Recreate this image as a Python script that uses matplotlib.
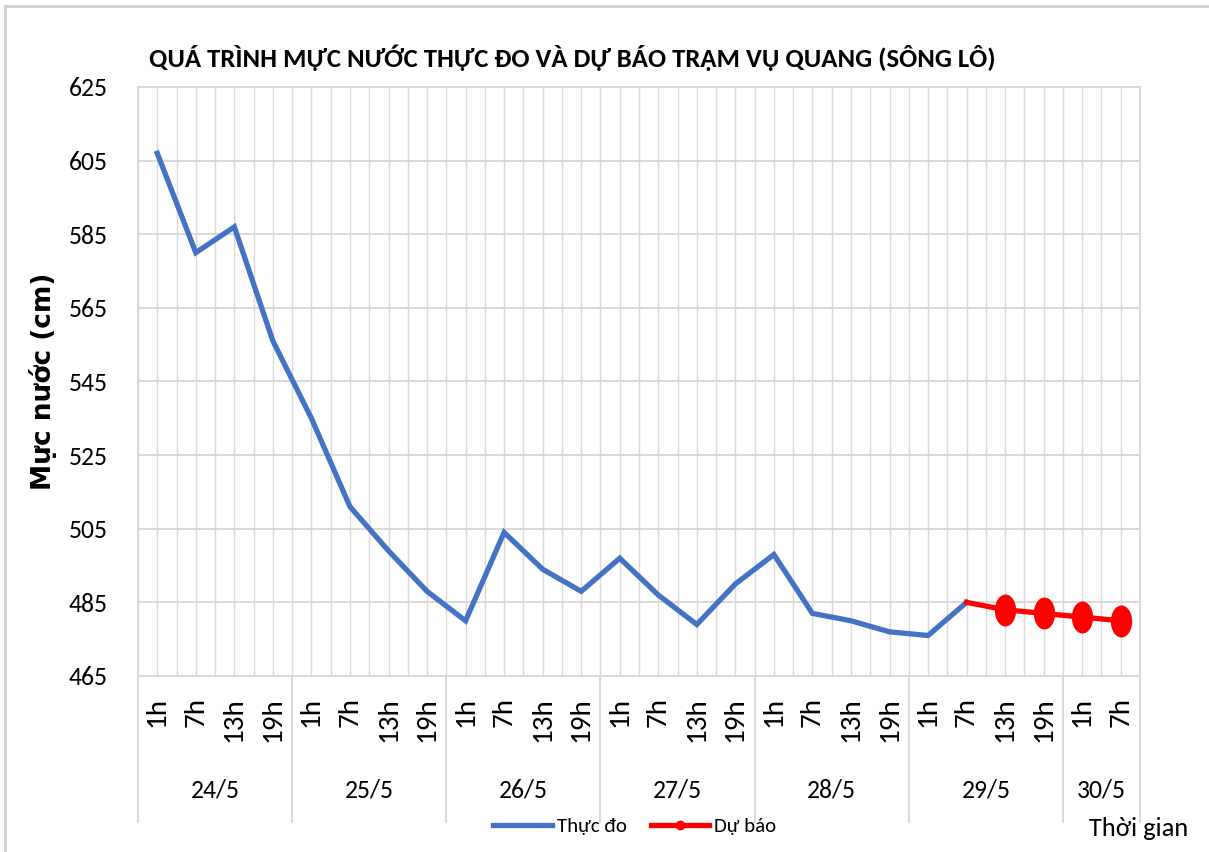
import matplotlib
matplotlib.use("Agg")
import matplotlib.pyplot as plt
import matplotlib.transforms as mtransforms
from matplotlib.lines import Line2D
from matplotlib.path import Path

plt.rcParams['font.family'] = ['Carlito', 'Liberation Sans', 'DejaVu Sans']

# du lieu doc tu hinh
days = ["24/5", "25/5", "26/5", "27/5", "28/5", "29/5", "30/5"]
hours_per_day = [4, 4, 4, 4, 4, 4, 2]
hour_labels = ["1h", "7h", "13h", "19h"] * 6 + ["1h", "7h"]
thuc_do = [607, 580, 587, 556, 535, 511, 499, 488, 480, 504, 494, 488,
           497, 487, 479, 490, 498, 482, 480, 477, 476, 485]
du_bao = [485, 483, 482, 481, 480]   # tu 29/5 7h
du_bao_start = 21

BLUE = "#4472C4"
RED = "#FF0000"
GRID = "#d9d9d9"

# marker hinh elip (cao hon rong)
circ = Path.unit_circle()
ellipse = Path(circ.vertices * [0.65, 1.0], circ.codes)

fig = plt.figure(figsize=(12.09, 8.52), dpi=100)
ax = fig.add_axes([138 / 1209, 1 - 676 / 852, (1140 - 138) / 1209, (676 - 87) / 852])

n = len(hour_labels)
x_pos = [i + 0.5 for i in range(n)]

ax.plot(x_pos[:len(thuc_do)], thuc_do, color=BLUE, lw=3.8, solid_joinstyle='miter', zorder=3)
x_fc = x_pos[du_bao_start:du_bao_start + len(du_bao)]
ax.plot(x_fc, du_bao, color=RED, lw=3.8, marker=ellipse, markersize=22,
        markevery=list(range(1, len(du_bao))), zorder=4)

ax.set_xlim(0, n)
ax.set_ylim(465, 625)
ax.set_yticks(range(465, 626, 20))

# luoi doc moi nua khoang
for k in range(2 * n + 1):
    ax.axvline(k / 2, color=GRID, lw=1.0, zorder=1)
for yv in range(465, 626, 20):
    ax.axhline(yv, color=GRID, lw=1.4, zorder=1)

for s in ax.spines.values():
    s.set_color(GRID)
    s.set_linewidth(1.4)

ax.set_xticks(x_pos)
ax.set_xticklabels(hour_labels, rotation=90, va='top', ha='center')
ax.tick_params(axis='x', length=0, pad=15, labelsize=21)
ax.tick_params(axis='y', length=0, pad=22, labelsize=18.5)

# nhom ngay
trans = mtransforms.blended_transform_factory(ax.transData, ax.transAxes)
edge = 0
ax.plot([0, 0], [0, -0.248], transform=trans, color=GRID, lw=1.4, clip_on=False)
for d, cnt in zip(days, hours_per_day):
    ax.text(edge + cnt / 2, -0.1935, d, transform=trans, ha='center', va='center', fontsize=18.5)
    edge += cnt
    ax.plot([edge, edge], [0, -0.248], transform=trans, color=GRID, lw=1.4, clip_on=False)

ax.set_ylabel("Mực nước (cm)", fontsize=19, fontweight='bold',
              family=['DejaVu Sans'], labelpad=8)

fig.text(0.473, 1 - 58 / 852,
         "QUÁ TRÌNH MỰC NƯỚC THỰC ĐO VÀ DỰ BÁO TRẠM VỤ QUANG (SÔNG LÔ)",
         ha='center', va='center', fontsize=19.3, fontweight='bold')

handles = [Line2D([], [], color=BLUE, lw=3.8),
           Line2D([], [], color=RED, lw=3.8, marker='o', markersize=6)]
fig.legend(handles, ["Thực đo", "Dự báo"], loc='center', bbox_to_anchor=(0.525, 1 - 826 / 852),
           ncol=2, frameon=False, fontsize=15, handlelength=2.8, handletextpad=0.25,
           columnspacing=1.15)

fig.text(1188 / 1209, 1 - 828 / 852, "Thời gian", ha='right', va='center', fontsize=19)

# khung ngoai
fig.add_artist(Line2D([5 / 1209, 5 / 1209], [0, 1 - 6 / 852], color="#d0d0d0", lw=2))
fig.add_artist(Line2D([5 / 1209, 1], [1 - 6 / 852, 1 - 6 / 852], color="#d0d0d0", lw=2))

fig.savefig("out.png", dpi=100)
